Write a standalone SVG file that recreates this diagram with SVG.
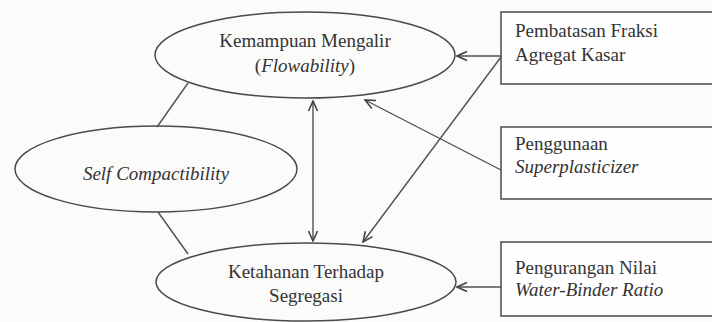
<svg xmlns="http://www.w3.org/2000/svg" width="712" height="322" viewBox="0 0 712 322">
<style>
.sh{fill:none;stroke:#4a4a4a;stroke-width:1.5}
.bx{fill:#fefefe;stroke:#4a4a4a;stroke-width:1.5}
.ln{fill:none;stroke:#505050;stroke-width:1.4}
text{font-family:'Liberation Serif','Times New Roman',serif;font-size:19px;fill:#333}
.c{text-anchor:middle}
.i{font-style:italic}
</style>
<defs>
<marker id="ah" viewBox="0 0 12 12" refX="11" refY="6" markerWidth="12" markerHeight="12" markerUnits="userSpaceOnUse" orient="auto-start-reverse">
<path d="M1,1.5 L11,6 L1,10.5" fill="none" stroke="#444" stroke-width="1.6"/>
</marker>
</defs>
<rect width="712" height="322" fill="#fbfbfa"/>
<g id="connectors">
<line class="ln" x1="157" y1="127" x2="188" y2="83"/>
<line class="ln" x1="158" y1="212" x2="188" y2="254"/>
<line class="ln" x1="313" y1="101" x2="313" y2="241" marker-start="url(#ah)" marker-end="url(#ah)"/>
<line class="ln" x1="501" y1="56" x2="457" y2="56" marker-end="url(#ah)"/>
<line class="ln" x1="501" y1="57" x2="363" y2="242" marker-end="url(#ah)"/>
<line class="ln" x1="501" y1="170" x2="365" y2="100" marker-end="url(#ah)"/>
<line class="ln" x1="501" y1="287" x2="457" y2="287" marker-end="url(#ah)"/>
</g>
<g id="flowability">
<ellipse class="sh" cx="305" cy="55" rx="150" ry="43"/>
<text class="c" x="305" y="47" font-family="Liberation Serif, serif">Kemampuan Mengalir</text>
<text class="c" x="305" y="72" font-family="Liberation Serif, serif">(<tspan class="i">Flowability</tspan>)</text>
</g>
<g id="self-compactibility">
<ellipse class="sh" cx="156" cy="169" rx="141" ry="43"/>
<text class="c i" x="156" y="180" font-family="Liberation Serif, serif">Self Compactibility</text>
</g>
<g id="segregasi">
<ellipse class="sh" cx="306" cy="282" rx="150" ry="39"/>
<text class="c" x="306" y="278" font-family="Liberation Serif, serif">Ketahanan Terhadap</text>
<text class="c" x="306" y="302" font-family="Liberation Serif, serif">Segregasi</text>
</g>
<g id="box-agregat">
<rect class="bx" x="501" y="12" width="230" height="72"/>
<text x="515" y="37" font-family="Liberation Serif, serif">Pembatasan Fraksi</text>
<text x="515" y="61" font-family="Liberation Serif, serif">Agregat Kasar</text>
</g>
<g id="box-superplasticizer">
<rect class="bx" x="501" y="127" width="230" height="72"/>
<text x="515" y="150" font-family="Liberation Serif, serif">Penggunaan</text>
<text class="i" x="515" y="173" font-family="Liberation Serif, serif">Superplasticizer</text>
</g>
<g id="box-wbr">
<rect class="bx" x="501" y="242" width="230" height="74"/>
<text x="515" y="274" font-family="Liberation Serif, serif">Pengurangan Nilai</text>
<text class="i" x="515" y="296" font-family="Liberation Serif, serif">Water-Binder Ratio</text>
</g>
</svg>
